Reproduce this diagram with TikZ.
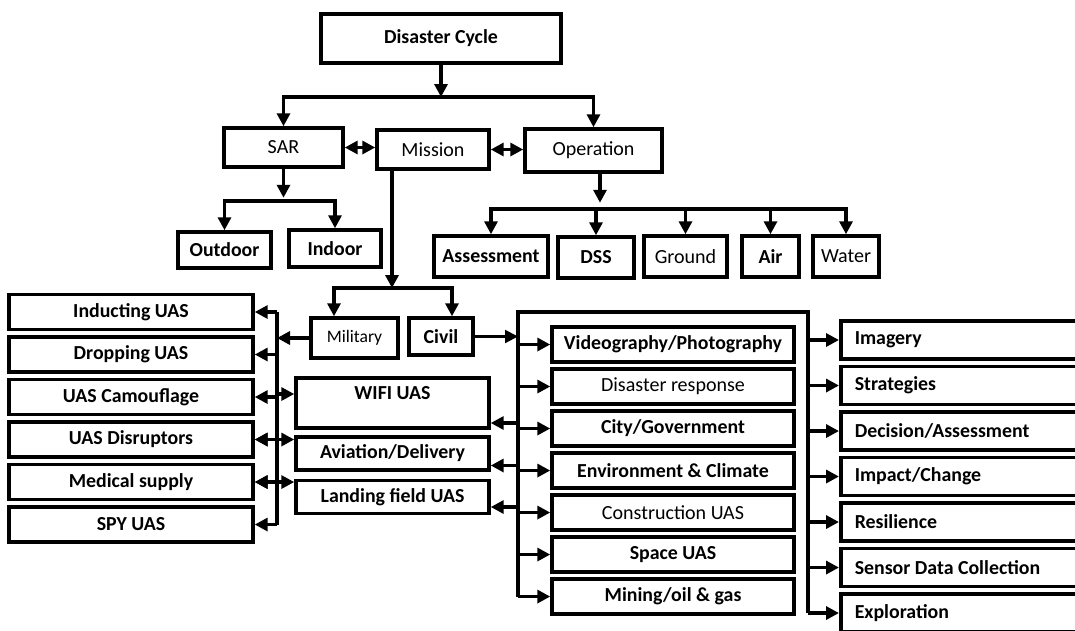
\documentclass[tikz,border=0pt]{standalone}
\usepackage{fontspec}
\setmainfont{Carlito}
\usepackage{tikz}
\usetikzlibrary{arrows.meta, positioning}
\newcommand{\boxfont}{\bfseries\fontsize{11.3}{13}\selectfont}
\newcommand{\plainfont}{\fontsize{11.4}{13}\selectfont}

\begin{document}
\begin{tikzpicture}[
    x=0.02cm, y=-0.02cm,
    box/.style={rectangle, draw, line width=2pt, inner sep=0pt, align=center, font=\boxfont},
    plain/.style={font=\plainfont},
    leftbox/.style={box, minimum width=4.88cm, minimum height=0.7cm},
    midbox/.style={box, minimum width=3.86cm, minimum height=0.66cm},
    usebox/.style={box, minimum width=4.84cm, minimum height=0.7cm},
    outbox/.style={box, text width=4.6cm, inner xsep=0.28cm, align=flush left, minimum height=0.76cm},
    arrow/.style={-{Triangle[length=2.6mm, width=2.6mm]}, line width=2pt},
    twoway/.style={{Triangle[length=2.6mm, width=2.6mm]}-{Triangle[length=2.6mm, width=2.6mm]}, line width=2pt},
    trunk/.style={line width=2pt}
]
    \useasboundingbox (0,0) rectangle (1075,630);
    \clip (0,0) rectangle (1075,630);

    % Top levels
    \node[box, minimum width=4.8cm, minimum height=0.98cm] (cycle) at (441,38.5) {Disaster Cycle};
    \node[box, plain, minimum width=2.38cm, minimum height=0.78cm] (sar) at (283.5,147.5) {SAR};
    \node[box, plain, minimum width=2.24cm, minimum height=0.78cm] (mission) at (433,149.5) {Mission};
    \node[box, plain, minimum width=2.74cm, minimum height=0.86cm] (op) at (593.5,150.5) {Operation};

    % SAR side
    \node[box, minimum width=1.86cm, minimum height=0.72cm] (outdoor) at (224.5,250) {Outdoor};
    \node[box, minimum width=1.84cm, minimum height=0.74cm] (indoor) at (335,248.5) {Indoor};

    % Operation side
    \node[box, minimum width=2.28cm, minimum height=0.82cm] (assess) at (491,256.5) {Assessment};
    \node[box, minimum width=1.52cm, minimum height=0.82cm] (dss) at (596,257.5) {DSS};
    \node[box, plain, minimum width=1.66cm, minimum height=0.82cm] (ground) at (685.5,256.5) {Ground};
    \node[box, minimum width=1.14cm, minimum height=0.82cm] (air) at (770.5,256.5) {Air};
    \node[box, plain, minimum width=1.32cm, minimum height=0.82cm] (water) at (846,256.5) {Water};

    % Mission side
    \node[box, font=\fontsize{10}{12}\selectfont, minimum width=1.74cm, minimum height=0.8cm] (military) at (354.5,338) {Military};
    \node[box, minimum width=1.28cm, minimum height=0.74cm] (civil) at (441,336.5) {Civil};

    % Military uses
    \node[leftbox] (inducting) at (131,312) {Inducting UAS};
    \node[leftbox, below=0.08cm of inducting] (dropping) {Dropping UAS};
    \node[leftbox, below=0.08cm of dropping] (camouflage) {UAS Camouflage};
    \node[leftbox, below=0.08cm of camouflage] (disruptors) {UAS Disruptors};
    \node[leftbox, below=0.08cm of disruptors] (medical) {Medical supply};
    \node[leftbox, below=0.08cm of medical] (spy) {SPY UAS};

    % Shared uses
    \node[box, minimum width=3.86cm, minimum height=1.0cm, text height=2.4mm, text depth=4mm] (wifi) at (392.5,403) {WIFI UAS};
    \node[midbox] (aviation) at (392.5,453.5) {Aviation/Delivery};
    \node[midbox] (landing) at (392.5,497) {Landing field UAS};

    % Civil uses
    \node[usebox] (video) at (673,344.5) {Videography/Photography};
    \node[usebox, plain, below=0.07cm of video] (response) {Disaster response};
    \node[usebox, below=0.07cm of response] (city) {City/Government};
    \node[usebox, below=0.07cm of city] (climate) {Environment \& Climate};
    \node[usebox, plain, below=0.07cm of climate] (construction) {Construction UAS};
    \node[usebox, below=0.07cm of construction] (space) {Space UAS};
    \node[usebox, below=0.07cm of space] (mining) {Mining/oil \& gas};

    % Outcomes
    \node[outbox, anchor=west] (imagery) at (839,340) {Imagery};
    \node[outbox, below=0.08cm of imagery] (strategies) {Strategies};
    \node[outbox, below=0.08cm of strategies] (decision) {Decision/Assessment};
    \node[outbox, below=0.08cm of decision] (impact) {Impact/Change};
    \node[outbox, below=0.08cm of impact] (resilience) {Resilience};
    \node[outbox, below=0.08cm of resilience] (sensor) {Sensor Data Collection};
    \node[outbox, below=0.08cm of sensor] (exploration) {Exploration};

    % Junctions
    \coordinate (cycbar) at (441,97);
    \coordinate (sarbar) at (283,201);
    \coordinate (opbar) at (600,209);
    \coordinate (misbar) at (392,288);
    \coordinate (ltop) at (277,312);
    \coordinate (rtop) at (518,312);
    \coordinate (r2top) at (808,312);

    % Arrows, top
    \draw[arrow] (cycle.south) -- (cycbar);
    \draw[arrow] (cycbar) -| (sar.north);
    \draw[arrow] (cycbar) -| (op.north);
    \draw[twoway] (sar.east) -- (sar.east -| mission.west);
    \draw[twoway] (mission.east) -- (mission.east -| op.west);

    \draw[arrow] (sar.south) -- ++(0,29);
    \draw[arrow] (sarbar) -| (outdoor.north);
    \draw[arrow] (sarbar) -| (indoor.north);

    \draw[arrow] (op.south -| opbar) -- ++(0,29);
    \draw[arrow] (opbar) -| (assess.north);
    \draw[arrow] (opbar) -| (dss.north);
    \draw[arrow] (opbar) -| (ground.north);
    \draw[arrow] (opbar) -| (air.north);
    \draw[arrow] (opbar) -| (water.north);

    \draw[arrow] (mission.south -| misbar) -- (misbar);
    \draw[arrow] (misbar) -| ([xshift=-0.41cm]military.north);
    \draw[arrow] (misbar) -| ([xshift=0.22cm]civil.north);

    % Military trunk
    \draw[trunk] (ltop) -- (ltop |- spy.east);
    \draw[arrow] (military.west) -- (military.west -| ltop);
    \draw[arrow] (ltop) -- (inducting.east);
    \draw[arrow] (ltop |- dropping.east) -- (dropping.east);
    \draw[arrow] (ltop |- camouflage.east) -- (camouflage.east);
    \draw[arrow] (ltop |- disruptors.east) -- (disruptors.east);
    \draw[arrow] (ltop |- medical.east) -- (medical.east);
    \draw[arrow] (ltop |- spy.east) -- (spy.east);
    \draw[arrow] ([yshift=0.18cm]ltop |- wifi.west) -- ([yshift=0.18cm]wifi.west);
    \draw[twoway] (disruptors.east) -- (disruptors.east -| aviation.west);
    \draw[twoway] (medical.east) -- (medical.east -| landing.west);

    % Civil trunk
    \draw[trunk] (rtop |- mining.west) -- (rtop) -- (r2top) -- (r2top |- exploration.west);
    \draw[arrow, line width=1.2pt] (civil.east) -- (civil.east -| rtop);
    \draw[arrow] ([yshift=-0.4cm]rtop |- wifi.east) -- ([yshift=-0.4cm]wifi.east);
    \draw[arrow] ([yshift=-0.24cm]rtop |- aviation.east) -- ([yshift=-0.24cm]aviation.east);
    \draw[arrow] ([yshift=-0.2cm]rtop |- landing.east) -- ([yshift=-0.2cm]landing.east);
    \draw[arrow] (rtop |- video.west) -- (video.west);
    \draw[arrow] (rtop |- response.west) -- (response.west);
    \draw[arrow] (rtop |- city.west) -- (city.west);
    \draw[arrow] (rtop |- climate.west) -- (climate.west);
    \draw[arrow] (rtop |- construction.west) -- (construction.west);
    \draw[arrow] (rtop |- space.west) -- (space.west);
    \draw[arrow] (rtop |- mining.west) -- (mining.west);

    % Outcome arrows
    \draw[arrow] (r2top |- imagery.west) -- (imagery.west);
    \draw[arrow] (r2top |- strategies.west) -- (strategies.west);
    \draw[arrow] (r2top |- decision.west) -- (decision.west);
    \draw[arrow] (r2top |- impact.west) -- (impact.west);
    \draw[arrow] (r2top |- resilience.west) -- (resilience.west);
    \draw[arrow] (r2top |- sensor.west) -- (sensor.west);
    \draw[arrow] (r2top |- exploration.west) -- (exploration.west);
\end{tikzpicture}
\end{document}
